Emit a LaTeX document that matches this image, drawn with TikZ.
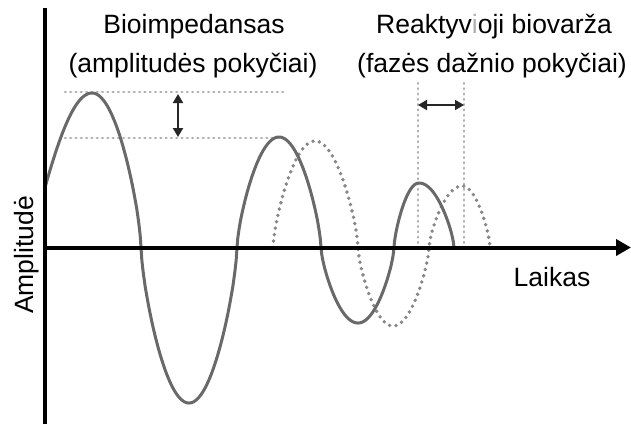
\documentclass[tikz,border=0pt]{standalone}
\usepackage{fontspec}
\setmainfont{Liberation Sans}
\usetikzlibrary{arrows.meta}
\definecolor{wave}{RGB}{105,105,105}
\definecolor{dwave}{RGB}{135,135,135}
\definecolor{refl}{RGB}{175,175,175}
\definecolor{lightletter}{RGB}{175,175,175}
\begin{document}
\begin{tikzpicture}[x=1pt,y=-1pt,
  axisline/.style={line width=4pt,black},
  solidwave/.style={line width=3pt,wave,line join=round},
  dotwave/.style={line width=3.8pt,dwave,line cap=round,dash pattern=on 0pt off 6.5pt},
  refline/.style={line width=2.4pt,refl,line cap=round,dash pattern=on 0.8pt off 4.5pt},
  measure/.style={line width=1.8pt,black!85,{Triangle[length=9pt,width=10pt]}-{Triangle[length=9pt,width=10pt]}},
  lbl/.style={font=\fontsize{26.5}{30}\selectfont,inner sep=0pt,anchor=base}]
\useasboundingbox[fill=white] (0,0) rectangle (631,424);

% reference lines
\coordinate (r1a) at (65,92);  \coordinate (r1b) at (284,92);
\coordinate (r2a) at (65,138); \coordinate (r2b) at (284,138);
\coordinate (v1a) at (418,83); \coordinate (v1b) at (418,247);
\coordinate (v2a) at (464,83); \coordinate (v2b) at (464,247);
\draw[refline] (r1a) -- (r1b);
\draw[refline] (r2a) -- (r2b);
\draw[refline] (v1a) -- (v1b);
\draw[refline] (v2a) -- (v2b);

% dotted (shifted) wave
\draw[dotwave]
  plot[domain=273:315,samples=60] (\x,{247.5-106.5*abs(sin(90*(\x-273)/42))^0.7})
  -- plot[domain=315:358,samples=60] (\x,{247.5-106.5*abs(cos(90*(\x-315)/43))^0.7})
  -- plot[domain=358:393,samples=60] (\x,{247.5+78.5*abs(sin(90*(\x-358)/35))^0.7})
  -- plot[domain=393:429,samples=60] (\x,{247.5+78.5*abs(cos(90*(\x-393)/36))^0.7})
  -- plot[domain=429:462,samples=60] (\x,{247.5-61.5*abs(sin(90*(\x-429)/33))^0.7})
  -- plot[domain=462:490,samples=60] (\x,{247.5-61.5*abs(cos(90*(\x-462)/28))^0.7});

% solid wave
\draw[solidwave]
  plot[domain=45:92,samples=40] (\x,{247.5-154.5*sin(90*(\x-29)/63)})
  -- plot[domain=92:141,samples=60] (\x,{247.5-154.5*abs(cos(90*(\x-92)/49))^0.7})
  -- plot[domain=141:189,samples=60] (\x,{247.5+155.5*abs(sin(90*(\x-141)/48))^0.7})
  -- plot[domain=189:237,samples=60] (\x,{247.5+155.5*abs(cos(90*(\x-189)/48))^0.7})
  -- plot[domain=237:279,samples=60] (\x,{247.5-110.5*abs(sin(90*(\x-237)/42))^0.7})
  -- plot[domain=279:321,samples=60] (\x,{247.5-110.5*abs(cos(90*(\x-279)/42))^0.7})
  -- plot[domain=321:358,samples=60] (\x,{247.5+75.5*abs(sin(90*(\x-321)/37))^0.7})
  -- plot[domain=358:394,samples=60] (\x,{247.5+75.5*abs(cos(90*(\x-358)/36))^0.7})
  -- plot[domain=394:419,samples=60] (\x,{247.5-64.5*abs(sin(90*(\x-394)/25))^0.7})
  -- plot[domain=419:454,samples=60] (\x,{247.5-64.5*abs(cos(90*(\x-419)/35))^0.7});

% measurement arrows
\coordinate (ampTop) at (178,94);
\coordinate (ampBot) at (178,137);
\draw[measure] (ampTop) -- (ampBot);
\coordinate (phL) at (418,105);
\coordinate (phR) at (464,105);
\draw[measure] (phL) -- (phR);

% axes
\coordinate (yTop) at (45,8);
\coordinate (yBot) at (45,424);
\coordinate (origin) at (43,247.5);
\coordinate (xEnd) at (631,247.5);
\draw[axisline] (yBot) -- (yTop);
\draw[axisline,-{Triangle[length=15pt,width=16pt]}] (origin) -- (xEnd);

% labels
\node[lbl] (t1) at (194,33) {Bioimpedansas};
\node[lbl] (t2) at (193,72) {(amplitudės pokyčiai)};
\node[lbl] (t3) at (494,33) {Reaktyv{\color{lightletter}i}oji biovarža};
\node[lbl] (t4) at (492,72) {(fazės dažnio pokyčiai)};
\node[lbl] (xlab) at (552,286) {Laikas};
\node[lbl,rotate=90] (ylab) at (33,255) {Amplitudė};
\end{tikzpicture}
\end{document}
